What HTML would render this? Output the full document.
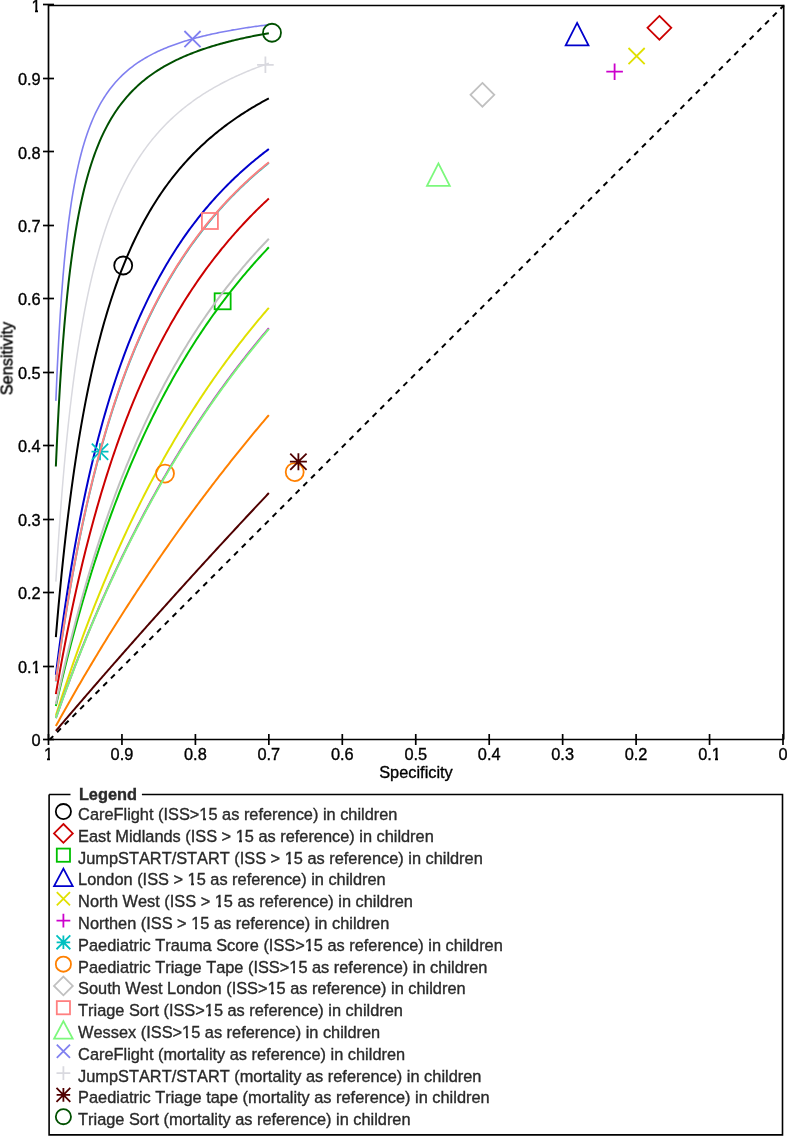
<!DOCTYPE html>
<html><head><meta charset="utf-8"><style>
html,body{margin:0;padding:0;background:#fff;}
body{width:787px;height:1137px;overflow:hidden;}
svg{display:block;font-family:"Liberation Sans",sans-serif;font-kerning:none;}
.t{will-change:transform;}
</style></head><body>
<svg width="787" height="1137" viewBox="0 0 787 1137">
<g stroke="#000" stroke-width="1.70" fill="none"><path d="M48.50 5.50L783.70 5.50L783.70 739.50"/><path d="M48.50 4.50L48.50 739.50L783.70 739.50"/><path d="M43 739.50L54 739.50"/><path d="M783.00 734L783.00 745"/><path d="M43 666.50L54 666.50"/><path d="M709.55 734L709.55 745"/><path d="M43 592.50L54 592.50"/><path d="M636.10 734L636.10 745"/><path d="M43 519.50L54 519.50"/><path d="M562.65 734L562.65 745"/><path d="M43 445.50L54 445.50"/><path d="M489.20 734L489.20 745"/><path d="M43 372.50L54 372.50"/><path d="M415.75 734L415.75 745"/><path d="M43 298.50L54 298.50"/><path d="M342.30 734L342.30 745"/><path d="M43 225.50L54 225.50"/><path d="M268.85 734L268.85 745"/><path d="M43 151.50L54 151.50"/><path d="M195.40 734L195.40 745"/><path d="M43 78.50L54 78.50"/><path d="M121.95 734L121.95 745"/><path d="M43 4.50L54 4.50"/><path d="M48.50 734L48.50 745"/></g>
<g class="t">
<g font-size="16.35" fill="#000" stroke="#000" stroke-width="0.35"><text x="40.7" y="746.10" text-anchor="end">0</text><text x="783.00" y="760.4" text-anchor="middle">0</text><text x="40.7" y="672.65" text-anchor="end">0.1</text><text x="709.55" y="760.4" text-anchor="middle">0.1</text><text x="40.7" y="599.20" text-anchor="end">0.2</text><text x="636.10" y="760.4" text-anchor="middle">0.2</text><text x="40.7" y="525.75" text-anchor="end">0.3</text><text x="562.65" y="760.4" text-anchor="middle">0.3</text><text x="40.7" y="452.30" text-anchor="end">0.4</text><text x="489.20" y="760.4" text-anchor="middle">0.4</text><text x="40.7" y="378.85" text-anchor="end">0.5</text><text x="415.75" y="760.4" text-anchor="middle">0.5</text><text x="40.7" y="305.40" text-anchor="end">0.6</text><text x="342.30" y="760.4" text-anchor="middle">0.6</text><text x="40.7" y="231.95" text-anchor="end">0.7</text><text x="268.85" y="760.4" text-anchor="middle">0.7</text><text x="40.7" y="158.50" text-anchor="end">0.8</text><text x="195.40" y="760.4" text-anchor="middle">0.8</text><text x="40.7" y="85.05" text-anchor="end">0.9</text><text x="121.95" y="760.4" text-anchor="middle">0.9</text><text x="40.7" y="11.60" text-anchor="end">1</text><text x="48.50" y="760.4" text-anchor="middle">1</text></g>
<g stroke="#000" stroke-width="0.35"><text x="416" y="778.4" text-anchor="middle" font-size="16.35">Specificity</text>
<text transform="translate(12.5 358.5) rotate(-90)" text-anchor="middle" font-size="16.35">Sensitivity</text></g>
</g>
<path d="M49.8 739.5L783.8 5.5" stroke="#000" stroke-width="2" stroke-dasharray="5.4 5.484" stroke-dashoffset="0.6" fill="none"/>
<path d="M55.85 637.18 L57.27 620.41 L58.69 604.44 L60.11 589.22 L61.53 574.71 L62.95 560.84 L64.37 547.58 L65.79 534.88 L67.21 522.73 L68.63 511.07 L70.05 499.88 L71.47 489.13 L72.89 478.80 L74.31 468.87 L75.73 459.30 L77.15 450.09 L78.57 441.20 L79.99 432.63 L81.41 424.36 L82.83 416.37 L84.25 408.65 L85.67 401.18 L87.09 393.96 L88.51 386.96 L89.93 380.19 L91.35 373.62 L92.77 367.26 L94.19 361.09 L95.61 355.10 L97.03 349.28 L98.45 343.63 L99.87 338.14 L101.29 332.81 L102.71 327.62 L104.13 322.57 L105.55 317.66 L106.97 312.88 L108.39 308.22 L109.81 303.68 L111.23 299.26 L112.65 294.95 L114.07 290.74 L115.49 286.64 L116.91 282.64 L118.33 278.74 L119.75 274.92 L121.17 271.20 L122.59 267.56 L124.01 264.01 L125.43 260.53 L126.85 257.13 L128.27 253.81 L129.69 250.56 L131.11 247.38 L132.53 244.27 L133.95 241.22 L135.37 238.24 L136.79 235.32 L138.21 232.46 L139.63 229.66 L141.05 226.91 L142.47 224.22 L143.89 221.58 L145.31 218.99 L146.73 216.46 L148.15 213.97 L149.57 211.52 L150.99 209.13 L152.41 206.78 L153.83 204.47 L155.25 202.20 L156.67 199.98 L158.09 197.79 L159.51 195.65 L160.93 193.54 L162.35 191.47 L163.77 189.43 L165.19 187.43 L166.61 185.46 L168.03 183.53 L169.45 181.63 L170.87 179.76 L172.29 177.92 L173.71 176.11 L175.13 174.33 L176.55 172.58 L177.97 170.85 L179.39 169.16 L180.81 167.49 L182.23 165.84 L183.65 164.23 L185.07 162.63 L186.49 161.06 L187.91 159.52 L189.33 158.00 L190.75 156.50 L192.17 155.02 L193.59 153.56 L195.01 152.13 L196.43 150.71 L197.85 149.32 L199.27 147.94 L200.69 146.59 L202.11 145.25 L203.53 143.94 L204.95 142.64 L206.37 141.36 L207.79 140.09 L209.21 138.85 L210.63 137.62 L212.05 136.40 L213.47 135.21 L214.89 134.02 L216.31 132.86 L217.73 131.71 L219.15 130.57 L220.57 129.45 L221.99 128.34 L223.41 127.25 L224.83 126.17 L226.25 125.11 L227.67 124.05 L229.09 123.02 L230.51 121.99 L231.93 120.97 L233.35 119.97 L234.77 118.98 L236.19 118.01 L237.61 117.04 L239.03 116.09 L240.45 115.14 L241.87 114.21 L243.29 113.29 L244.71 112.38 L246.13 111.48 L247.55 110.59 L248.97 109.71 L250.39 108.84 L251.81 107.98 L253.23 107.13 L254.65 106.29 L256.07 105.46 L257.49 104.63 L258.91 103.82 L260.33 103.02 L261.75 102.22 L263.17 101.43 L264.59 100.65 L266.01 99.88 L267.43 99.12 L268.85 98.37" fill="none" stroke="#000000" stroke-width="2.00" stroke-linecap="butt" stroke-linejoin="round"/>
<circle cx="123.20" cy="265.50" r="9.00" fill="none" stroke="#000000" stroke-width="1.80"/>
<path d="M55.85 694.11 L57.27 685.88 L58.69 677.81 L60.11 669.90 L61.53 662.14 L62.95 654.53 L64.37 647.07 L65.79 639.75 L67.21 632.56 L68.63 625.51 L70.05 618.59 L71.47 611.79 L72.89 605.12 L74.31 598.56 L75.73 592.13 L77.15 585.80 L78.57 579.59 L79.99 573.48 L81.41 567.48 L82.83 561.57 L84.25 555.77 L85.67 550.07 L87.09 544.46 L88.51 538.94 L89.93 533.51 L91.35 528.17 L92.77 522.91 L94.19 517.74 L95.61 512.65 L97.03 507.64 L98.45 502.71 L99.87 497.85 L101.29 493.07 L102.71 488.36 L104.13 483.72 L105.55 479.15 L106.97 474.64 L108.39 470.21 L109.81 465.84 L111.23 461.53 L112.65 457.28 L114.07 453.10 L115.49 448.97 L116.91 444.91 L118.33 440.90 L119.75 436.94 L121.17 433.04 L122.59 429.19 L124.01 425.40 L125.43 421.66 L126.85 417.96 L128.27 414.32 L129.69 410.73 L131.11 407.18 L132.53 403.68 L133.95 400.22 L135.37 396.81 L136.79 393.44 L138.21 390.12 L139.63 386.84 L141.05 383.59 L142.47 380.39 L143.89 377.23 L145.31 374.11 L146.73 371.03 L148.15 367.98 L149.57 364.97 L150.99 362.00 L152.41 359.06 L153.83 356.16 L155.25 353.30 L156.67 350.46 L158.09 347.66 L159.51 344.89 L160.93 342.16 L162.35 339.45 L163.77 336.78 L165.19 334.14 L166.61 331.52 L168.03 328.94 L169.45 326.38 L170.87 323.86 L172.29 321.36 L173.71 318.89 L175.13 316.44 L176.55 314.03 L177.97 311.63 L179.39 309.27 L180.81 306.93 L182.23 304.61 L183.65 302.32 L185.07 300.06 L186.49 297.81 L187.91 295.59 L189.33 293.40 L190.75 291.22 L192.17 289.07 L193.59 286.94 L195.01 284.83 L196.43 282.75 L197.85 280.68 L199.27 278.64 L200.69 276.61 L202.11 274.61 L203.53 272.62 L204.95 270.66 L206.37 268.71 L207.79 266.78 L209.21 264.87 L210.63 262.98 L212.05 261.11 L213.47 259.26 L214.89 257.42 L216.31 255.60 L217.73 253.80 L219.15 252.01 L220.57 250.25 L221.99 248.49 L223.41 246.76 L224.83 245.04 L226.25 243.33 L227.67 241.64 L229.09 239.97 L230.51 238.31 L231.93 236.67 L233.35 235.04 L234.77 233.42 L236.19 231.82 L237.61 230.24 L239.03 228.66 L240.45 227.10 L241.87 225.56 L243.29 224.03 L244.71 222.51 L246.13 221.00 L247.55 219.51 L248.97 218.03 L250.39 216.56 L251.81 215.11 L253.23 213.67 L254.65 212.24 L256.07 210.82 L257.49 209.41 L258.91 208.02 L260.33 206.63 L261.75 205.26 L263.17 203.90 L264.59 202.55 L266.01 201.21 L267.43 199.88 L268.85 198.56" fill="none" stroke="#cc0000" stroke-width="2.00" stroke-linecap="butt" stroke-linejoin="round"/>
<path d="M659.40 15.90L671.30 27.80L659.40 39.70L647.50 27.80Z" fill="none" stroke="#cc0000" stroke-width="1.80"/>
<path d="M55.85 705.94 L57.27 699.73 L58.69 693.60 L60.11 687.56 L61.53 681.60 L62.95 675.72 L64.37 669.92 L65.79 664.20 L67.21 658.55 L68.63 652.98 L70.05 647.47 L71.47 642.04 L72.89 636.68 L74.31 631.39 L75.73 626.17 L77.15 621.01 L78.57 615.91 L79.99 610.88 L81.41 605.91 L82.83 601.01 L84.25 596.16 L85.67 591.37 L87.09 586.64 L88.51 581.97 L89.93 577.35 L91.35 572.79 L92.77 568.28 L94.19 563.82 L95.61 559.42 L97.03 555.07 L98.45 550.76 L99.87 546.51 L101.29 542.30 L102.71 538.15 L104.13 534.04 L105.55 529.97 L106.97 525.95 L108.39 521.98 L109.81 518.05 L111.23 514.16 L112.65 510.31 L114.07 506.51 L115.49 502.75 L116.91 499.02 L118.33 495.34 L119.75 491.70 L121.17 488.09 L122.59 484.53 L124.01 481.00 L125.43 477.50 L126.85 474.04 L128.27 470.62 L129.69 467.24 L131.11 463.88 L132.53 460.57 L133.95 457.28 L135.37 454.03 L136.79 450.81 L138.21 447.62 L139.63 444.47 L141.05 441.34 L142.47 438.25 L143.89 435.18 L145.31 432.15 L146.73 429.14 L148.15 426.17 L149.57 423.22 L150.99 420.30 L152.41 417.41 L153.83 414.54 L155.25 411.70 L156.67 408.89 L158.09 406.10 L159.51 403.34 L160.93 400.61 L162.35 397.90 L163.77 395.21 L165.19 392.55 L166.61 389.92 L168.03 387.30 L169.45 384.71 L170.87 382.15 L172.29 379.60 L173.71 377.08 L175.13 374.58 L176.55 372.11 L177.97 369.65 L179.39 367.22 L180.81 364.80 L182.23 362.41 L183.65 360.04 L185.07 357.69 L186.49 355.36 L187.91 353.04 L189.33 350.75 L190.75 348.48 L192.17 346.22 L193.59 343.99 L195.01 341.77 L196.43 339.57 L197.85 337.39 L199.27 335.23 L200.69 333.08 L202.11 330.96 L203.53 328.84 L204.95 326.75 L206.37 324.67 L207.79 322.61 L209.21 320.57 L210.63 318.54 L212.05 316.53 L213.47 314.53 L214.89 312.55 L216.31 310.59 L217.73 308.64 L219.15 306.70 L220.57 304.78 L221.99 302.88 L223.41 300.99 L224.83 299.11 L226.25 297.25 L227.67 295.40 L229.09 293.57 L230.51 291.75 L231.93 289.94 L233.35 288.15 L234.77 286.37 L236.19 284.61 L237.61 282.85 L239.03 281.11 L240.45 279.38 L241.87 277.67 L243.29 275.97 L244.71 274.28 L246.13 272.60 L247.55 270.93 L248.97 269.28 L250.39 267.63 L251.81 266.00 L253.23 264.38 L254.65 262.78 L256.07 261.18 L257.49 259.59 L258.91 258.02 L260.33 256.46 L261.75 254.90 L263.17 253.36 L264.59 251.83 L266.01 250.31 L267.43 248.80 L268.85 247.30" fill="none" stroke="#00c000" stroke-width="2.00" stroke-linecap="butt" stroke-linejoin="round"/>
<rect x="214.65" y="293.30" width="16.00" height="16.00" fill="none" stroke="#00c000" stroke-width="1.80"/>
<path d="M55.85 674.79 L57.27 663.44 L58.69 652.43 L60.11 641.74 L61.53 631.35 L62.95 621.26 L64.37 611.45 L65.79 601.91 L67.21 592.63 L68.63 583.60 L70.05 574.81 L71.47 566.25 L72.89 557.91 L74.31 549.78 L75.73 541.86 L77.15 534.13 L78.57 526.59 L79.99 519.23 L81.41 512.06 L82.83 505.05 L84.25 498.20 L85.67 491.51 L87.09 484.98 L88.51 478.59 L89.93 472.34 L91.35 466.24 L92.77 460.26 L94.19 454.42 L95.61 448.70 L97.03 443.10 L98.45 437.62 L99.87 432.25 L101.29 426.99 L102.71 421.84 L104.13 416.79 L105.55 411.85 L106.97 407.00 L108.39 402.24 L109.81 397.58 L111.23 393.00 L112.65 388.52 L114.07 384.11 L115.49 379.79 L116.91 375.55 L118.33 371.38 L119.75 367.29 L121.17 363.28 L122.59 359.33 L124.01 355.46 L125.43 351.65 L126.85 347.91 L128.27 344.23 L129.69 340.62 L131.11 337.06 L132.53 333.57 L133.95 330.13 L135.37 326.75 L136.79 323.43 L138.21 320.16 L139.63 316.94 L141.05 313.77 L142.47 310.65 L143.89 307.59 L145.31 304.57 L146.73 301.59 L148.15 298.66 L149.57 295.78 L150.99 292.94 L152.41 290.14 L153.83 287.38 L155.25 284.67 L156.67 281.99 L158.09 279.36 L159.51 276.76 L160.93 274.20 L162.35 271.67 L163.77 269.18 L165.19 266.73 L166.61 264.31 L168.03 261.92 L169.45 259.57 L170.87 257.24 L172.29 254.95 L173.71 252.69 L175.13 250.46 L176.55 248.26 L177.97 246.09 L179.39 243.95 L180.81 241.84 L182.23 239.75 L183.65 237.69 L185.07 235.65 L186.49 233.65 L187.91 231.66 L189.33 229.71 L190.75 227.77 L192.17 225.86 L193.59 223.98 L195.01 222.11 L196.43 220.27 L197.85 218.46 L199.27 216.66 L200.69 214.88 L202.11 213.13 L203.53 211.40 L204.95 209.68 L206.37 207.99 L207.79 206.32 L209.21 204.66 L210.63 203.03 L212.05 201.41 L213.47 199.81 L214.89 198.23 L216.31 196.67 L217.73 195.13 L219.15 193.60 L220.57 192.09 L221.99 190.59 L223.41 189.11 L224.83 187.65 L226.25 186.21 L227.67 184.78 L229.09 183.36 L230.51 181.96 L231.93 180.57 L233.35 179.20 L234.77 177.84 L236.19 176.50 L237.61 175.17 L239.03 173.86 L240.45 172.56 L241.87 171.27 L243.29 169.99 L244.71 168.73 L246.13 167.48 L247.55 166.24 L248.97 165.01 L250.39 163.80 L251.81 162.60 L253.23 161.41 L254.65 160.23 L256.07 159.07 L257.49 157.91 L258.91 156.77 L260.33 155.63 L261.75 154.51 L263.17 153.40 L264.59 152.30 L266.01 151.20 L267.43 150.12 L268.85 149.05" fill="none" stroke="#0000cc" stroke-width="2.00" stroke-linecap="butt" stroke-linejoin="round"/>
<path d="M577.10 22.90L588.50 45.30L565.70 45.30Z" fill="none" stroke="#0000cc" stroke-width="1.80"/>
<path d="M55.85 715.62 L57.27 711.13 L58.69 706.68 L60.11 702.26 L61.53 697.89 L62.95 693.55 L64.37 689.25 L65.79 684.98 L67.21 680.75 L68.63 676.56 L70.05 672.40 L71.47 668.28 L72.89 664.19 L74.31 660.14 L75.73 656.12 L77.15 652.13 L78.57 648.18 L79.99 644.25 L81.41 640.36 L82.83 636.51 L84.25 632.68 L85.67 628.88 L87.09 625.12 L88.51 621.38 L89.93 617.67 L91.35 614.00 L92.77 610.35 L94.19 606.73 L95.61 603.14 L97.03 599.58 L98.45 596.04 L99.87 592.53 L101.29 589.05 L102.71 585.60 L104.13 582.17 L105.55 578.77 L106.97 575.39 L108.39 572.04 L109.81 568.72 L111.23 565.42 L112.65 562.14 L114.07 558.89 L115.49 555.66 L116.91 552.46 L118.33 549.28 L119.75 546.12 L121.17 542.99 L122.59 539.88 L124.01 536.79 L125.43 533.73 L126.85 530.68 L128.27 527.66 L129.69 524.66 L131.11 521.69 L132.53 518.73 L133.95 515.79 L135.37 512.88 L136.79 509.98 L138.21 507.11 L139.63 504.25 L141.05 501.42 L142.47 498.60 L143.89 495.81 L145.31 493.03 L146.73 490.27 L148.15 487.53 L149.57 484.81 L150.99 482.11 L152.41 479.43 L153.83 476.76 L155.25 474.12 L156.67 471.49 L158.09 468.88 L159.51 466.28 L160.93 463.70 L162.35 461.14 L163.77 458.60 L165.19 456.07 L166.61 453.56 L168.03 451.07 L169.45 448.59 L170.87 446.13 L172.29 443.69 L173.71 441.26 L175.13 438.84 L176.55 436.44 L177.97 434.06 L179.39 431.69 L180.81 429.34 L182.23 427.00 L183.65 424.68 L185.07 422.37 L186.49 420.07 L187.91 417.79 L189.33 415.53 L190.75 413.28 L192.17 411.04 L193.59 408.81 L195.01 406.60 L196.43 404.41 L197.85 402.22 L199.27 400.05 L200.69 397.89 L202.11 395.75 L203.53 393.62 L204.95 391.50 L206.37 389.40 L207.79 387.30 L209.21 385.22 L210.63 383.15 L212.05 381.10 L213.47 379.05 L214.89 377.02 L216.31 375.00 L217.73 372.99 L219.15 371.00 L220.57 369.01 L221.99 367.04 L223.41 365.08 L224.83 363.13 L226.25 361.19 L227.67 359.26 L229.09 357.34 L230.51 355.44 L231.93 353.54 L233.35 351.66 L234.77 349.78 L236.19 347.92 L237.61 346.07 L239.03 344.23 L240.45 342.39 L241.87 340.57 L243.29 338.76 L244.71 336.96 L246.13 335.17 L247.55 333.39 L248.97 331.61 L250.39 329.85 L251.81 328.10 L253.23 326.36 L254.65 324.62 L256.07 322.90 L257.49 321.18 L258.91 319.48 L260.33 317.78 L261.75 316.09 L263.17 314.42 L264.59 312.75 L266.01 311.09 L267.43 309.44 L268.85 307.79" fill="none" stroke="#e0e000" stroke-width="2.00" stroke-linecap="butt" stroke-linejoin="round"/>
<path d="M628.50 48.00L644.70 64.20M628.50 64.20L644.70 48.00" stroke="#e0e000" stroke-width="1.80"/>
<path d="M55.85 718.12 L57.27 714.08 L58.69 710.07 L60.11 706.09 L61.53 702.14 L62.95 698.22 L64.37 694.33 L65.79 690.46 L67.21 686.63 L68.63 682.82 L70.05 679.04 L71.47 675.28 L72.89 671.56 L74.31 667.86 L75.73 664.18 L77.15 660.53 L78.57 656.91 L79.99 653.31 L81.41 649.74 L82.83 646.19 L84.25 642.67 L85.67 639.17 L87.09 635.70 L88.51 632.25 L89.93 628.82 L91.35 625.42 L92.77 622.04 L94.19 618.68 L95.61 615.35 L97.03 612.03 L98.45 608.74 L99.87 605.48 L101.29 602.23 L102.71 599.01 L104.13 595.80 L105.55 592.62 L106.97 589.46 L108.39 586.32 L109.81 583.20 L111.23 580.10 L112.65 577.02 L114.07 573.96 L115.49 570.92 L116.91 567.90 L118.33 564.90 L119.75 561.92 L121.17 558.96 L122.59 556.02 L124.01 553.09 L125.43 550.18 L126.85 547.30 L128.27 544.43 L129.69 541.57 L131.11 538.74 L132.53 535.92 L133.95 533.12 L135.37 530.34 L136.79 527.58 L138.21 524.83 L139.63 522.10 L141.05 519.38 L142.47 516.68 L143.89 514.00 L145.31 511.34 L146.73 508.69 L148.15 506.05 L149.57 503.44 L150.99 500.83 L152.41 498.25 L153.83 495.68 L155.25 493.12 L156.67 490.58 L158.09 488.05 L159.51 485.54 L160.93 483.04 L162.35 480.56 L163.77 478.09 L165.19 475.64 L166.61 473.20 L168.03 470.78 L169.45 468.37 L170.87 465.97 L172.29 463.59 L173.71 461.22 L175.13 458.86 L176.55 456.52 L177.97 454.19 L179.39 451.87 L180.81 449.57 L182.23 447.28 L183.65 445.00 L185.07 442.73 L186.49 440.48 L187.91 438.24 L189.33 436.01 L190.75 433.80 L192.17 431.59 L193.59 429.40 L195.01 427.22 L196.43 425.05 L197.85 422.90 L199.27 420.75 L200.69 418.62 L202.11 416.50 L203.53 414.39 L204.95 412.29 L206.37 410.21 L207.79 408.13 L209.21 406.06 L210.63 404.01 L212.05 401.97 L213.47 399.94 L214.89 397.91 L216.31 395.90 L217.73 393.90 L219.15 391.91 L220.57 389.93 L221.99 387.96 L223.41 386.00 L224.83 384.06 L226.25 382.12 L227.67 380.19 L229.09 378.27 L230.51 376.36 L231.93 374.46 L233.35 372.57 L234.77 370.69 L236.19 368.82 L237.61 366.96 L239.03 365.11 L240.45 363.26 L241.87 361.43 L243.29 359.61 L244.71 357.79 L246.13 355.98 L247.55 354.19 L248.97 352.40 L250.39 350.62 L251.81 348.85 L253.23 347.09 L254.65 345.33 L256.07 343.59 L257.49 341.85 L258.91 340.13 L260.33 338.41 L261.75 336.70 L263.17 334.99 L264.59 333.30 L266.01 331.61 L267.43 329.93 L268.85 328.26" fill="none" stroke="#cc00cc" stroke-width="2.00" stroke-linecap="butt" stroke-linejoin="round"/>
<path d="M606.30 71.70L622.90 71.70M614.60 63.40L614.60 80.00" stroke="#cc00cc" stroke-width="1.80"/>
<path d="M55.85 681.27 L57.27 670.94 L58.69 660.88 L60.11 651.08 L61.53 641.53 L62.95 632.23 L64.37 623.16 L65.79 614.31 L67.21 605.68 L68.63 597.26 L70.05 589.04 L71.47 581.01 L72.89 573.17 L74.31 565.51 L75.73 558.02 L77.15 550.70 L78.57 543.55 L79.99 536.55 L81.41 529.71 L82.83 523.01 L84.25 516.45 L85.67 510.04 L87.09 503.75 L88.51 497.60 L89.93 491.57 L91.35 485.66 L92.77 479.88 L94.19 474.20 L95.61 468.64 L97.03 463.19 L98.45 457.84 L99.87 452.59 L101.29 447.44 L102.71 442.39 L104.13 437.43 L105.55 432.57 L106.97 427.79 L108.39 423.10 L109.81 418.49 L111.23 413.96 L112.65 409.51 L114.07 405.14 L115.49 400.85 L116.91 396.63 L118.33 392.48 L119.75 388.40 L121.17 384.39 L122.59 380.44 L124.01 376.56 L125.43 372.75 L126.85 368.99 L128.27 365.30 L129.69 361.66 L131.11 358.08 L132.53 354.56 L133.95 351.09 L135.37 347.67 L136.79 344.31 L138.21 341.00 L139.63 337.73 L141.05 334.52 L142.47 331.35 L143.89 328.23 L145.31 325.16 L146.73 322.13 L148.15 319.15 L149.57 316.20 L150.99 313.30 L152.41 310.44 L153.83 307.62 L155.25 304.84 L156.67 302.10 L158.09 299.39 L159.51 296.72 L160.93 294.09 L162.35 291.49 L163.77 288.93 L165.19 286.40 L166.61 283.91 L168.03 281.45 L169.45 279.02 L170.87 276.62 L172.29 274.25 L173.71 271.91 L175.13 269.60 L176.55 267.32 L177.97 265.07 L179.39 262.85 L180.81 260.65 L182.23 258.49 L183.65 256.34 L185.07 254.23 L186.49 252.14 L187.91 250.07 L189.33 248.03 L190.75 246.01 L192.17 244.02 L193.59 242.05 L195.01 240.10 L196.43 238.18 L197.85 236.28 L199.27 234.40 L200.69 232.54 L202.11 230.70 L203.53 228.88 L204.95 227.09 L206.37 225.31 L207.79 223.55 L209.21 221.81 L210.63 220.10 L212.05 218.40 L213.47 216.71 L214.89 215.05 L216.31 213.40 L217.73 211.77 L219.15 210.16 L220.57 208.57 L221.99 206.99 L223.41 205.43 L224.83 203.89 L226.25 202.36 L227.67 200.84 L229.09 199.35 L230.51 197.86 L231.93 196.39 L233.35 194.94 L234.77 193.50 L236.19 192.08 L237.61 190.67 L239.03 189.27 L240.45 187.89 L241.87 186.52 L243.29 185.17 L244.71 183.82 L246.13 182.49 L247.55 181.18 L248.97 179.87 L250.39 178.58 L251.81 177.30 L253.23 176.03 L254.65 174.78 L256.07 173.53 L257.49 172.30 L258.91 171.08 L260.33 169.87 L261.75 168.67 L263.17 167.48 L264.59 166.31 L266.01 165.14 L267.43 163.98 L268.85 162.84" fill="none" stroke="#00c0c0" stroke-width="2.00" stroke-linecap="butt" stroke-linejoin="round"/>
<path d="M91.50 451.70L108.50 451.70M100.00 443.20L100.00 460.20M91.84 443.54L108.16 459.86M91.84 459.86L108.16 443.54" stroke="#00c0c0" stroke-width="1.80"/>
<path d="M55.85 726.06 L57.27 723.48 L58.69 720.92 L60.11 718.36 L61.53 715.81 L62.95 713.27 L64.37 710.74 L65.79 708.21 L67.21 705.70 L68.63 703.19 L70.05 700.69 L71.47 698.20 L72.89 695.72 L74.31 693.24 L75.73 690.77 L77.15 688.31 L78.57 685.86 L79.99 683.41 L81.41 680.98 L82.83 678.55 L84.25 676.12 L85.67 673.71 L87.09 671.30 L88.51 668.90 L89.93 666.51 L91.35 664.13 L92.77 661.75 L94.19 659.38 L95.61 657.02 L97.03 654.66 L98.45 652.32 L99.87 649.98 L101.29 647.64 L102.71 645.32 L104.13 643.00 L105.55 640.69 L106.97 638.38 L108.39 636.09 L109.81 633.79 L111.23 631.51 L112.65 629.23 L114.07 626.97 L115.49 624.70 L116.91 622.45 L118.33 620.20 L119.75 617.96 L121.17 615.72 L122.59 613.49 L124.01 611.27 L125.43 609.05 L126.85 606.85 L128.27 604.64 L129.69 602.45 L131.11 600.26 L132.53 598.08 L133.95 595.90 L135.37 593.73 L136.79 591.57 L138.21 589.41 L139.63 587.26 L141.05 585.12 L142.47 582.98 L143.89 580.85 L145.31 578.72 L146.73 576.61 L148.15 574.49 L149.57 572.39 L150.99 570.29 L152.41 568.19 L153.83 566.10 L155.25 564.02 L156.67 561.95 L158.09 559.88 L159.51 557.81 L160.93 555.76 L162.35 553.70 L163.77 551.66 L165.19 549.62 L166.61 547.58 L168.03 545.56 L169.45 543.53 L170.87 541.52 L172.29 539.51 L173.71 537.50 L175.13 535.50 L176.55 533.51 L177.97 531.52 L179.39 529.54 L180.81 527.56 L182.23 525.59 L183.65 523.62 L185.07 521.66 L186.49 519.71 L187.91 517.76 L189.33 515.82 L190.75 513.88 L192.17 511.95 L193.59 510.02 L195.01 508.10 L196.43 506.18 L197.85 504.27 L199.27 502.37 L200.69 500.46 L202.11 498.57 L203.53 496.68 L204.95 494.80 L206.37 492.92 L207.79 491.04 L209.21 489.17 L210.63 487.31 L212.05 485.45 L213.47 483.60 L214.89 481.75 L216.31 479.90 L217.73 478.07 L219.15 476.23 L220.57 474.40 L221.99 472.58 L223.41 470.76 L224.83 468.95 L226.25 467.14 L227.67 465.34 L229.09 463.54 L230.51 461.74 L231.93 459.95 L233.35 458.17 L234.77 456.39 L236.19 454.62 L237.61 452.85 L239.03 451.08 L240.45 449.32 L241.87 447.57 L243.29 445.81 L244.71 444.07 L246.13 442.33 L247.55 440.59 L248.97 438.86 L250.39 437.13 L251.81 435.41 L253.23 433.69 L254.65 431.97 L256.07 430.26 L257.49 428.56 L258.91 426.86 L260.33 425.16 L261.75 423.47 L263.17 421.78 L264.59 420.10 L266.01 418.42 L267.43 416.75 L268.85 415.08" fill="none" stroke="#ff8000" stroke-width="2.00" stroke-linecap="butt" stroke-linejoin="round"/>
<circle cx="165.00" cy="473.60" r="9.00" fill="none" stroke="#ff8000" stroke-width="1.80"/>
<circle cx="294.70" cy="472.10" r="9.00" fill="none" stroke="#ff8000" stroke-width="1.80"/>
<path d="M55.85 704.20 L57.27 697.69 L58.69 691.27 L60.11 684.95 L61.53 678.71 L62.95 672.57 L64.37 666.51 L65.79 660.54 L67.21 654.65 L68.63 648.85 L70.05 643.12 L71.47 637.48 L72.89 631.91 L74.31 626.41 L75.73 620.99 L77.15 615.65 L78.57 610.37 L79.99 605.16 L81.41 600.02 L82.83 594.95 L84.25 589.95 L85.67 585.01 L87.09 580.13 L88.51 575.31 L89.93 570.55 L91.35 565.86 L92.77 561.22 L94.19 556.64 L95.61 552.12 L97.03 547.65 L98.45 543.23 L99.87 538.87 L101.29 534.56 L102.71 530.31 L104.13 526.10 L105.55 521.94 L106.97 517.84 L108.39 513.78 L109.81 509.76 L111.23 505.80 L112.65 501.87 L114.07 498.00 L115.49 494.16 L116.91 490.37 L118.33 486.63 L119.75 482.92 L121.17 479.26 L122.59 475.63 L124.01 472.05 L125.43 468.50 L126.85 465.00 L128.27 461.53 L129.69 458.09 L131.11 454.70 L132.53 451.34 L133.95 448.02 L135.37 444.73 L136.79 441.47 L138.21 438.25 L139.63 435.06 L141.05 431.91 L142.47 428.79 L143.89 425.70 L145.31 422.64 L146.73 419.61 L148.15 416.61 L149.57 413.64 L150.99 410.70 L152.41 407.79 L153.83 404.91 L155.25 402.06 L156.67 399.23 L158.09 396.43 L159.51 393.66 L160.93 390.92 L162.35 388.20 L163.77 385.51 L165.19 382.84 L166.61 380.20 L168.03 377.58 L169.45 374.99 L170.87 372.42 L172.29 369.87 L173.71 367.35 L175.13 364.85 L176.55 362.38 L177.97 359.92 L179.39 357.49 L180.81 355.08 L182.23 352.70 L183.65 350.33 L185.07 347.98 L186.49 345.66 L187.91 343.35 L189.33 341.07 L190.75 338.81 L192.17 336.56 L193.59 334.34 L195.01 332.13 L196.43 329.94 L197.85 327.77 L199.27 325.62 L200.69 323.49 L202.11 321.38 L203.53 319.28 L204.95 317.20 L206.37 315.14 L207.79 313.10 L209.21 311.07 L210.63 309.06 L212.05 307.06 L213.47 305.08 L214.89 303.12 L216.31 301.17 L217.73 299.24 L219.15 297.33 L220.57 295.43 L221.99 293.54 L223.41 291.67 L224.83 289.82 L226.25 287.98 L227.67 286.15 L229.09 284.34 L230.51 282.54 L231.93 280.76 L233.35 278.99 L234.77 277.23 L236.19 275.49 L237.61 273.76 L239.03 272.04 L240.45 270.34 L241.87 268.65 L243.29 266.97 L244.71 265.30 L246.13 263.65 L247.55 262.01 L248.97 260.38 L250.39 258.76 L251.81 257.16 L253.23 255.56 L254.65 253.98 L256.07 252.41 L257.49 250.85 L258.91 249.30 L260.33 247.77 L261.75 246.24 L263.17 244.73 L264.59 243.22 L266.01 241.73 L267.43 240.25 L268.85 238.77" fill="none" stroke="#c0c0c0" stroke-width="2.00" stroke-linecap="butt" stroke-linejoin="round"/>
<path d="M482.40 82.90L494.30 94.80L482.40 106.70L470.50 94.80Z" fill="none" stroke="#c0c0c0" stroke-width="1.80"/>
<path d="M55.85 681.05 L57.27 670.69 L58.69 660.60 L60.11 650.77 L61.53 641.19 L62.95 631.86 L64.37 622.77 L65.79 613.90 L67.21 605.24 L68.63 596.80 L70.05 588.56 L71.47 580.51 L72.89 572.65 L74.31 564.98 L75.73 557.48 L77.15 550.14 L78.57 542.97 L79.99 535.96 L81.41 529.11 L82.83 522.40 L84.25 515.83 L85.67 509.40 L87.09 503.11 L88.51 496.95 L89.93 490.91 L91.35 485.00 L92.77 479.20 L94.19 473.52 L95.61 467.96 L97.03 462.50 L98.45 457.14 L99.87 451.89 L101.29 446.74 L102.71 441.68 L104.13 436.72 L105.55 431.85 L106.97 427.07 L108.39 422.38 L109.81 417.77 L111.23 413.24 L112.65 408.79 L114.07 404.42 L115.49 400.12 L116.91 395.90 L118.33 391.75 L119.75 387.67 L121.17 383.66 L122.59 379.71 L124.01 375.83 L125.43 372.01 L126.85 368.26 L128.27 364.56 L129.69 360.92 L131.11 357.35 L132.53 353.82 L133.95 350.35 L135.37 346.94 L136.79 343.58 L138.21 340.27 L139.63 337.01 L141.05 333.79 L142.47 330.63 L143.89 327.51 L145.31 324.44 L146.73 321.41 L148.15 318.43 L149.57 315.49 L150.99 312.59 L152.41 309.73 L153.83 306.91 L155.25 304.13 L156.67 301.39 L158.09 298.69 L159.51 296.02 L160.93 293.39 L162.35 290.80 L163.77 288.24 L165.19 285.71 L166.61 283.22 L168.03 280.76 L169.45 278.33 L170.87 275.93 L172.29 273.57 L173.71 271.23 L175.13 268.93 L176.55 266.65 L177.97 264.40 L179.39 262.18 L180.81 259.99 L182.23 257.82 L183.65 255.68 L185.07 253.57 L186.49 251.48 L187.91 249.42 L189.33 247.38 L190.75 245.37 L192.17 243.38 L193.59 241.41 L195.01 239.47 L196.43 237.54 L197.85 235.64 L199.27 233.77 L200.69 231.91 L202.11 230.08 L203.53 228.26 L204.95 226.47 L206.37 224.69 L207.79 222.94 L209.21 221.20 L210.63 219.49 L212.05 217.79 L213.47 216.11 L214.89 214.45 L216.31 212.81 L217.73 211.18 L219.15 209.57 L220.57 207.98 L221.99 206.41 L223.41 204.85 L224.83 203.31 L226.25 201.78 L227.67 200.27 L229.09 198.77 L230.51 197.29 L231.93 195.83 L233.35 194.38 L234.77 192.94 L236.19 191.52 L237.61 190.11 L239.03 188.72 L240.45 187.34 L241.87 185.98 L243.29 184.62 L244.71 183.28 L246.13 181.96 L247.55 180.64 L248.97 179.34 L250.39 178.05 L251.81 176.77 L253.23 175.51 L254.65 174.26 L256.07 173.01 L257.49 171.78 L258.91 170.57 L260.33 169.36 L261.75 168.16 L263.17 166.98 L264.59 165.80 L266.01 164.64 L267.43 163.48 L268.85 162.34" fill="none" stroke="#ff8080" stroke-width="2.00" stroke-linecap="butt" stroke-linejoin="round"/>
<rect x="201.90" y="213.00" width="16.00" height="16.00" fill="none" stroke="#ff8080" stroke-width="1.80"/>
<path d="M55.85 718.20 L57.27 714.18 L58.69 710.18 L60.11 706.22 L61.53 702.28 L62.95 698.38 L64.37 694.50 L65.79 690.65 L67.21 686.82 L68.63 683.03 L70.05 679.26 L71.47 675.52 L72.89 671.80 L74.31 668.11 L75.73 664.45 L77.15 660.81 L78.57 657.20 L79.99 653.62 L81.41 650.06 L82.83 646.52 L84.25 643.01 L85.67 639.52 L87.09 636.05 L88.51 632.61 L89.93 629.20 L91.35 625.80 L92.77 622.43 L94.19 619.08 L95.61 615.76 L97.03 612.46 L98.45 609.17 L99.87 605.91 L101.29 602.68 L102.71 599.46 L104.13 596.27 L105.55 593.09 L106.97 589.94 L108.39 586.81 L109.81 583.69 L111.23 580.60 L112.65 577.53 L114.07 574.48 L115.49 571.44 L116.91 568.43 L118.33 565.43 L119.75 562.46 L121.17 559.50 L122.59 556.57 L124.01 553.65 L125.43 550.75 L126.85 547.86 L128.27 545.00 L129.69 542.15 L131.11 539.32 L132.53 536.51 L133.95 533.72 L135.37 530.94 L136.79 528.18 L138.21 525.43 L139.63 522.71 L141.05 520.00 L142.47 517.30 L143.89 514.63 L145.31 511.96 L146.73 509.32 L148.15 506.69 L149.57 504.08 L150.99 501.48 L152.41 498.89 L153.83 496.33 L155.25 493.77 L156.67 491.24 L158.09 488.71 L159.51 486.21 L160.93 483.71 L162.35 481.23 L163.77 478.77 L165.19 476.32 L166.61 473.88 L168.03 471.46 L169.45 469.05 L170.87 466.66 L172.29 464.27 L173.71 461.91 L175.13 459.55 L176.55 457.21 L177.97 454.88 L179.39 452.57 L180.81 450.27 L182.23 447.98 L183.65 445.70 L185.07 443.44 L186.49 441.19 L187.91 438.95 L189.33 436.72 L190.75 434.51 L192.17 432.31 L193.59 430.12 L195.01 427.94 L196.43 425.77 L197.85 423.62 L199.27 421.48 L200.69 419.34 L202.11 417.22 L203.53 415.12 L204.95 413.02 L206.37 410.93 L207.79 408.86 L209.21 406.79 L210.63 404.74 L212.05 402.70 L213.47 400.67 L214.89 398.64 L216.31 396.63 L217.73 394.63 L219.15 392.64 L220.57 390.67 L221.99 388.70 L223.41 386.74 L224.83 384.79 L226.25 382.85 L227.67 380.92 L229.09 379.00 L230.51 377.09 L231.93 375.19 L233.35 373.30 L234.77 371.42 L236.19 369.55 L237.61 367.69 L239.03 365.84 L240.45 364.00 L241.87 362.16 L243.29 360.34 L244.71 358.52 L246.13 356.72 L247.55 354.92 L248.97 353.13 L250.39 351.35 L251.81 349.58 L253.23 347.82 L254.65 346.06 L256.07 344.32 L257.49 342.58 L258.91 340.85 L260.33 339.13 L261.75 337.42 L263.17 335.72 L264.59 334.02 L266.01 332.34 L267.43 330.66 L268.85 328.99" fill="none" stroke="#7cf87c" stroke-width="2.00" stroke-linecap="butt" stroke-linejoin="round"/>
<path d="M438.40 163.40L449.80 185.80L427.00 185.80Z" fill="none" stroke="#7cf87c" stroke-width="1.80"/>
<path d="M55.85 400.86 L57.27 368.10 L58.69 340.25 L60.11 316.28 L61.53 295.44 L62.95 277.14 L64.37 260.95 L65.79 246.53 L67.21 233.59 L68.63 221.93 L70.05 211.36 L71.47 201.74 L72.89 192.93 L74.31 184.86 L75.73 177.42 L77.15 170.54 L78.57 164.17 L79.99 158.24 L81.41 152.73 L82.83 147.57 L84.25 142.74 L85.67 138.21 L87.09 133.96 L88.51 129.95 L89.93 126.16 L91.35 122.59 L92.77 119.21 L94.19 116.00 L95.61 112.96 L97.03 110.06 L98.45 107.31 L99.87 104.69 L101.29 102.19 L102.71 99.80 L104.13 97.51 L105.55 95.33 L106.97 93.24 L108.39 91.23 L109.81 89.30 L111.23 87.46 L112.65 85.68 L114.07 83.97 L115.49 82.33 L116.91 80.74 L118.33 79.21 L119.75 77.74 L121.17 76.32 L122.59 74.95 L124.01 73.62 L125.43 72.34 L126.85 71.10 L128.27 69.90 L129.69 68.73 L131.11 67.61 L132.53 66.52 L133.95 65.46 L135.37 64.43 L136.79 63.43 L138.21 62.46 L139.63 61.52 L141.05 60.60 L142.47 59.71 L143.89 58.85 L145.31 58.01 L146.73 57.19 L148.15 56.39 L149.57 55.61 L150.99 54.85 L152.41 54.11 L153.83 53.39 L155.25 52.69 L156.67 52.01 L158.09 51.34 L159.51 50.68 L160.93 50.04 L162.35 49.42 L163.77 48.81 L165.19 48.22 L166.61 47.64 L168.03 47.07 L169.45 46.51 L170.87 45.97 L172.29 45.43 L173.71 44.91 L175.13 44.40 L176.55 43.90 L177.97 43.41 L179.39 42.93 L180.81 42.46 L182.23 42.00 L183.65 41.55 L185.07 41.11 L186.49 40.67 L187.91 40.25 L189.33 39.83 L190.75 39.42 L192.17 39.01 L193.59 38.62 L195.01 38.23 L196.43 37.85 L197.85 37.48 L199.27 37.11 L200.69 36.75 L202.11 36.40 L203.53 36.05 L204.95 35.70 L206.37 35.37 L207.79 35.04 L209.21 34.71 L210.63 34.39 L212.05 34.08 L213.47 33.77 L214.89 33.46 L216.31 33.16 L217.73 32.87 L219.15 32.58 L220.57 32.29 L221.99 32.01 L223.41 31.74 L224.83 31.46 L226.25 31.20 L227.67 30.93 L229.09 30.67 L230.51 30.42 L231.93 30.16 L233.35 29.91 L234.77 29.67 L236.19 29.43 L237.61 29.19 L239.03 28.95 L240.45 28.72 L241.87 28.49 L243.29 28.27 L244.71 28.05 L246.13 27.83 L247.55 27.61 L248.97 27.40 L250.39 27.19 L251.81 26.98 L253.23 26.78 L254.65 26.57 L256.07 26.38 L257.49 26.18 L258.91 25.99 L260.33 25.79 L261.75 25.60 L263.17 25.42 L264.59 25.23 L266.01 25.05 L267.43 24.87 L268.85 24.69" fill="none" stroke="#8080f0" stroke-width="1.60" stroke-linecap="butt" stroke-linejoin="round"/>
<path d="M184.40 31.00L200.60 47.20M184.40 47.20L200.60 31.00" stroke="#8080f0" stroke-width="1.80"/>
<path d="M55.85 581.59 L57.27 558.32 L58.69 536.77 L60.11 516.76 L61.53 498.13 L62.95 480.74 L64.37 464.48 L65.79 449.23 L67.21 434.91 L68.63 421.43 L70.05 408.72 L71.47 396.72 L72.89 385.36 L74.31 374.61 L75.73 364.40 L77.15 354.71 L78.57 345.49 L79.99 336.71 L81.41 328.34 L82.83 320.35 L84.25 312.71 L85.67 305.41 L87.09 298.41 L88.51 291.71 L89.93 285.28 L91.35 279.11 L92.77 273.19 L94.19 267.48 L95.61 262.00 L97.03 256.72 L98.45 251.63 L99.87 246.72 L101.29 241.98 L102.71 237.41 L104.13 232.99 L105.55 228.72 L106.97 224.59 L108.39 220.60 L109.81 216.73 L111.23 212.98 L112.65 209.34 L114.07 205.82 L115.49 202.40 L116.91 199.09 L118.33 195.86 L119.75 192.73 L121.17 189.69 L122.59 186.74 L124.01 183.86 L125.43 181.06 L126.85 178.34 L128.27 175.69 L129.69 173.11 L131.11 170.59 L132.53 168.14 L133.95 165.75 L135.37 163.41 L136.79 161.14 L138.21 158.92 L139.63 156.75 L141.05 154.63 L142.47 152.57 L143.89 150.55 L145.31 148.57 L146.73 146.64 L148.15 144.75 L149.57 142.91 L150.99 141.10 L152.41 139.34 L153.83 137.61 L155.25 135.92 L156.67 134.26 L158.09 132.64 L159.51 131.05 L160.93 129.49 L162.35 127.96 L163.77 126.47 L165.19 125.00 L166.61 123.56 L168.03 122.15 L169.45 120.77 L170.87 119.41 L172.29 118.08 L173.71 116.77 L175.13 115.49 L176.55 114.23 L177.97 112.99 L179.39 111.77 L180.81 110.58 L182.23 109.41 L183.65 108.25 L185.07 107.12 L186.49 106.01 L187.91 104.91 L189.33 103.84 L190.75 102.78 L192.17 101.74 L193.59 100.71 L195.01 99.71 L196.43 98.72 L197.85 97.74 L199.27 96.78 L200.69 95.84 L202.11 94.91 L203.53 93.99 L204.95 93.09 L206.37 92.20 L207.79 91.33 L209.21 90.47 L210.63 89.62 L212.05 88.79 L213.47 87.96 L214.89 87.15 L216.31 86.35 L217.73 85.56 L219.15 84.79 L220.57 84.02 L221.99 83.27 L223.41 82.52 L224.83 81.79 L226.25 81.07 L227.67 80.35 L229.09 79.65 L230.51 78.95 L231.93 78.27 L233.35 77.59 L234.77 76.93 L236.19 76.27 L237.61 75.62 L239.03 74.98 L240.45 74.34 L241.87 73.72 L243.29 73.10 L244.71 72.49 L246.13 71.89 L247.55 71.30 L248.97 70.71 L250.39 70.13 L251.81 69.56 L253.23 68.99 L254.65 68.44 L256.07 67.88 L257.49 67.34 L258.91 66.80 L260.33 66.27 L261.75 65.74 L263.17 65.22 L264.59 64.71 L266.01 64.20 L267.43 63.70 L268.85 63.20" fill="none" stroke="#d9d9df" stroke-width="1.50" stroke-linecap="butt" stroke-linejoin="round"/>
<path d="M257.10 64.80L273.70 64.80M265.40 56.50L265.40 73.10" stroke="#d9d9df" stroke-width="1.80"/>
<path d="M55.85 730.86 L57.27 729.19 L58.69 727.53 L60.11 725.87 L61.53 724.20 L62.95 722.54 L64.37 720.88 L65.79 719.22 L67.21 717.56 L68.63 715.90 L70.05 714.25 L71.47 712.59 L72.89 710.94 L74.31 709.28 L75.73 707.63 L77.15 705.98 L78.57 704.33 L79.99 702.68 L81.41 701.04 L82.83 699.39 L84.25 697.75 L85.67 696.10 L87.09 694.46 L88.51 692.82 L89.93 691.18 L91.35 689.54 L92.77 687.90 L94.19 686.26 L95.61 684.63 L97.03 682.99 L98.45 681.36 L99.87 679.72 L101.29 678.09 L102.71 676.46 L104.13 674.83 L105.55 673.20 L106.97 671.58 L108.39 669.95 L109.81 668.33 L111.23 666.70 L112.65 665.08 L114.07 663.46 L115.49 661.84 L116.91 660.22 L118.33 658.60 L119.75 656.98 L121.17 655.37 L122.59 653.75 L124.01 652.14 L125.43 650.52 L126.85 648.91 L128.27 647.30 L129.69 645.69 L131.11 644.08 L132.53 642.48 L133.95 640.87 L135.37 639.26 L136.79 637.66 L138.21 636.06 L139.63 634.46 L141.05 632.85 L142.47 631.25 L143.89 629.66 L145.31 628.06 L146.73 626.46 L148.15 624.87 L149.57 623.27 L150.99 621.68 L152.41 620.09 L153.83 618.49 L155.25 616.90 L156.67 615.31 L158.09 613.73 L159.51 612.14 L160.93 610.55 L162.35 608.97 L163.77 607.39 L165.19 605.80 L166.61 604.22 L168.03 602.64 L169.45 601.06 L170.87 599.48 L172.29 597.90 L173.71 596.33 L175.13 594.75 L176.55 593.18 L177.97 591.60 L179.39 590.03 L180.81 588.46 L182.23 586.89 L183.65 585.32 L185.07 583.75 L186.49 582.19 L187.91 580.62 L189.33 579.06 L190.75 577.49 L192.17 575.93 L193.59 574.37 L195.01 572.81 L196.43 571.25 L197.85 569.69 L199.27 568.13 L200.69 566.57 L202.11 565.02 L203.53 563.46 L204.95 561.91 L206.37 560.36 L207.79 558.81 L209.21 557.26 L210.63 555.71 L212.05 554.16 L213.47 552.61 L214.89 551.07 L216.31 549.52 L217.73 547.98 L219.15 546.43 L220.57 544.89 L221.99 543.35 L223.41 541.81 L224.83 540.27 L226.25 538.73 L227.67 537.20 L229.09 535.66 L230.51 534.12 L231.93 532.59 L233.35 531.06 L234.77 529.52 L236.19 527.99 L237.61 526.46 L239.03 524.93 L240.45 523.41 L241.87 521.88 L243.29 520.35 L244.71 518.83 L246.13 517.30 L247.55 515.78 L248.97 514.26 L250.39 512.74 L251.81 511.22 L253.23 509.70 L254.65 508.18 L256.07 506.66 L257.49 505.15 L258.91 503.63 L260.33 502.12 L261.75 500.61 L263.17 499.09 L264.59 497.58 L266.01 496.07 L267.43 494.56 L268.85 493.06" fill="none" stroke="#500000" stroke-width="2.00" stroke-linecap="butt" stroke-linejoin="round"/>
<path d="M289.90 461.70L306.90 461.70M298.40 453.20L298.40 470.20M290.24 453.54L306.56 469.86M290.24 469.86L306.56 453.54" stroke="#500000" stroke-width="1.80"/>
<path d="M55.85 466.52 L57.27 435.23 L58.69 407.82 L60.11 383.60 L61.53 362.05 L62.95 342.74 L64.37 325.36 L65.79 309.61 L67.21 295.29 L68.63 282.21 L70.05 270.20 L71.47 259.15 L72.89 248.95 L74.31 239.50 L75.73 230.72 L77.15 222.54 L78.57 214.90 L79.99 207.76 L81.41 201.06 L82.83 194.76 L84.25 188.83 L85.67 183.24 L87.09 177.96 L88.51 172.96 L89.93 168.22 L91.35 163.73 L92.77 159.46 L94.19 155.39 L95.61 151.52 L97.03 147.83 L98.45 144.31 L99.87 140.94 L101.29 137.72 L102.71 134.64 L104.13 131.68 L105.55 128.84 L106.97 126.12 L108.39 123.50 L109.81 120.99 L111.23 118.56 L112.65 116.23 L114.07 113.98 L115.49 111.82 L116.91 109.72 L118.33 107.70 L119.75 105.75 L121.17 103.87 L122.59 102.04 L124.01 100.27 L125.43 98.56 L126.85 96.91 L128.27 95.30 L129.69 93.74 L131.11 92.23 L132.53 90.76 L133.95 89.34 L135.37 87.95 L136.79 86.61 L138.21 85.30 L139.63 84.03 L141.05 82.79 L142.47 81.59 L143.89 80.41 L145.31 79.27 L146.73 78.16 L148.15 77.07 L149.57 76.01 L150.99 74.98 L152.41 73.97 L153.83 72.99 L155.25 72.03 L156.67 71.10 L158.09 70.18 L159.51 69.29 L160.93 68.41 L162.35 67.56 L163.77 66.72 L165.19 65.90 L166.61 65.11 L168.03 64.32 L169.45 63.56 L170.87 62.81 L172.29 62.07 L173.71 61.36 L175.13 60.65 L176.55 59.96 L177.97 59.29 L179.39 58.62 L180.81 57.97 L182.23 57.34 L183.65 56.71 L185.07 56.10 L186.49 55.50 L187.91 54.91 L189.33 54.33 L190.75 53.76 L192.17 53.20 L193.59 52.65 L195.01 52.11 L196.43 51.58 L197.85 51.06 L199.27 50.55 L200.69 50.05 L202.11 49.56 L203.53 49.07 L204.95 48.59 L206.37 48.13 L207.79 47.66 L209.21 47.21 L210.63 46.76 L212.05 46.33 L213.47 45.89 L214.89 45.47 L216.31 45.05 L217.73 44.64 L219.15 44.23 L220.57 43.83 L221.99 43.44 L223.41 43.05 L224.83 42.67 L226.25 42.29 L227.67 41.92 L229.09 41.56 L230.51 41.20 L231.93 40.84 L233.35 40.50 L234.77 40.15 L236.19 39.81 L237.61 39.48 L239.03 39.15 L240.45 38.82 L241.87 38.50 L243.29 38.18 L244.71 37.87 L246.13 37.56 L247.55 37.26 L248.97 36.96 L250.39 36.66 L251.81 36.37 L253.23 36.08 L254.65 35.80 L256.07 35.52 L257.49 35.24 L258.91 34.97 L260.33 34.70 L261.75 34.43 L263.17 34.17 L264.59 33.91 L266.01 33.65 L267.43 33.40 L268.85 33.15" fill="none" stroke="#005000" stroke-width="2.00" stroke-linecap="butt" stroke-linejoin="round"/>
<circle cx="272.00" cy="32.75" r="9.00" fill="none" stroke="#005000" stroke-width="1.80"/>
<path d="M70.50 794.50L49.10 794.50M141.90 794.50L782.50 794.50L782.50 1134.90L49.10 1134.90L49.10 794.50" stroke="#000" stroke-width="1.6" fill="none"/>
<g class="t" stroke="#2a2a2a" stroke-width="0.35">
<text x="78.9" y="799.7" font-size="16.35" font-weight="bold" fill="#2a2a2a">Legend</text>
<text x="78.1" y="820.10" font-size="16.35" fill="#2a2a2a">CareFlight (ISS&gt;15 as reference) in children</text>
<text x="78.1" y="841.89" font-size="16.35" fill="#2a2a2a">East Midlands (ISS &gt; 15 as reference) in children</text>
<text x="78.1" y="863.68" font-size="16.35" fill="#2a2a2a">JumpSTART/START (ISS &gt; 15 as reference) in children</text>
<text x="78.1" y="885.47" font-size="16.35" fill="#2a2a2a">London (ISS &gt; 15 as reference) in children</text>
<text x="78.1" y="907.26" font-size="16.35" fill="#2a2a2a">North West (ISS &gt; 15 as reference) in children</text>
<text x="78.1" y="929.05" font-size="16.35" fill="#2a2a2a">Northen (ISS &gt; 15 as reference) in children</text>
<text x="78.1" y="950.84" font-size="16.35" fill="#2a2a2a">Paediatric Trauma Score (ISS&gt;15 as reference) in children</text>
<text x="78.1" y="972.63" font-size="16.35" fill="#2a2a2a">Paediatric Triage Tape (ISS&gt;15 as reference) in children</text>
<text x="78.1" y="994.42" font-size="16.35" fill="#2a2a2a">South West London (ISS&gt;15 as reference) in children</text>
<text x="78.1" y="1016.21" font-size="16.35" fill="#2a2a2a">Triage Sort (ISS&gt;15 as reference) in children</text>
<text x="78.1" y="1038.00" font-size="16.35" fill="#2a2a2a">Wessex (ISS&gt;15 as reference) in children</text>
<text x="78.1" y="1059.79" font-size="16.35" fill="#2a2a2a">CareFlight (mortality as reference) in children</text>
<text x="78.1" y="1081.58" font-size="16.35" fill="#2a2a2a">JumpSTART/START (mortality as reference) in children</text>
<text x="78.1" y="1103.37" font-size="16.35" fill="#2a2a2a">Paediatric Triage tape (mortality as reference) in children</text>
<text x="78.1" y="1125.16" font-size="16.35" fill="#2a2a2a">Triage Sort (mortality as reference) in children</text>
</g>
<circle cx="63.40" cy="811.60" r="7.60" fill="none" stroke="#000000" stroke-width="1.80"/>
<path d="M63.40 823.99L72.80 833.39L63.40 842.79L54.00 833.39Z" fill="none" stroke="#cc0000" stroke-width="1.80"/>
<rect x="56.80" y="848.58" width="13.20" height="13.20" fill="none" stroke="#00c000" stroke-width="1.80"/>
<path d="M63.40 868.57L72.70 886.17L54.10 886.17Z" fill="none" stroke="#0000cc" stroke-width="1.80"/>
<path d="M56.80 892.16L70.00 905.36M56.80 905.36L70.00 892.16" stroke="#e0e000" stroke-width="1.80"/>
<path d="M56.50 920.55L70.30 920.55M63.40 913.65L63.40 927.45" stroke="#cc00cc" stroke-width="1.80"/>
<path d="M56.63 942.34L70.17 942.34M63.40 935.57L63.40 949.11M56.49 935.43L70.31 949.25M56.49 949.25L70.31 935.43" stroke="#00c0c0" stroke-width="1.80"/>
<circle cx="63.40" cy="964.13" r="7.60" fill="none" stroke="#ff8000" stroke-width="1.80"/>
<path d="M63.40 976.52L72.80 985.92L63.40 995.32L54.00 985.92Z" fill="none" stroke="#c0c0c0" stroke-width="1.80"/>
<rect x="56.80" y="1001.11" width="13.20" height="13.20" fill="none" stroke="#ff8080" stroke-width="1.80"/>
<path d="M63.40 1021.10L72.70 1038.70L54.10 1038.70Z" fill="none" stroke="#7cf87c" stroke-width="1.80"/>
<path d="M56.80 1044.69L70.00 1057.89M56.80 1057.89L70.00 1044.69" stroke="#8080f0" stroke-width="1.80"/>
<path d="M56.50 1073.08L70.30 1073.08M63.40 1066.18L63.40 1079.98" stroke="#d9d9df" stroke-width="1.80"/>
<path d="M56.63 1094.87L70.17 1094.87M63.40 1088.10L63.40 1101.64M56.49 1087.96L70.31 1101.78M56.49 1101.78L70.31 1087.96" stroke="#500000" stroke-width="1.80"/>
<circle cx="63.40" cy="1116.66" r="7.60" fill="none" stroke="#005000" stroke-width="1.80"/>
<g shape-rendering="crispEdges"><rect x="32" y="671" width="3" height="3" fill="#fff"/><rect x="38" y="671" width="3" height="3" fill="#fff"/><rect x="712" y="758" width="3" height="4" fill="#fff"/><rect x="718" y="758" width="3" height="4" fill="#fff"/><rect x="32" y="10" width="3" height="3" fill="#fff"/><rect x="38" y="10" width="3" height="3" fill="#fff"/><rect x="44" y="758" width="3" height="4" fill="#fff"/><rect x="50" y="758" width="3" height="4" fill="#fff"/><rect x="200" y="818" width="3" height="3" fill="#fff"/><rect x="206" y="818" width="3" height="3" fill="#fff"/><rect x="236" y="840" width="3" height="3" fill="#fff"/><rect x="242" y="840" width="3" height="3" fill="#fff"/><rect x="285" y="862" width="3" height="3" fill="#fff"/><rect x="291" y="862" width="3" height="3" fill="#fff"/><rect x="188" y="883" width="3" height="4" fill="#fff"/><rect x="194" y="883" width="3" height="4" fill="#fff"/><rect x="215" y="905" width="3" height="4" fill="#fff"/><rect x="221" y="905" width="3" height="4" fill="#fff"/><rect x="192" y="927" width="3" height="3" fill="#fff"/><rect x="197" y="927" width="3" height="3" fill="#fff"/><rect x="305" y="949" width="3" height="3" fill="#fff"/><rect x="311" y="949" width="3" height="3" fill="#fff"/><rect x="290" y="971" width="3" height="3" fill="#fff"/><rect x="295" y="971" width="3" height="3" fill="#fff"/><rect x="268" y="992" width="3" height="4" fill="#fff"/><rect x="274" y="992" width="3" height="4" fill="#fff"/><rect x="205" y="1014" width="3" height="3" fill="#fff"/><rect x="211" y="1014" width="3" height="3" fill="#fff"/><rect x="182" y="1036" width="4" height="3" fill="#fff"/><rect x="188" y="1036" width="3" height="3" fill="#fff"/></g>
</svg>
</body></html>
